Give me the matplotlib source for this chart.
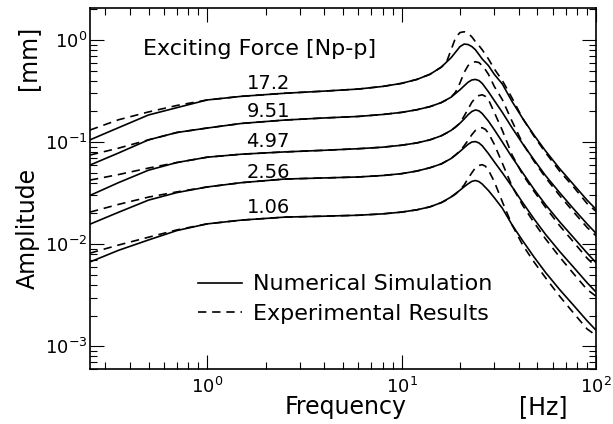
import matplotlib
matplotlib.use("Agg")
import matplotlib.pyplot as plt
from matplotlib.ticker import NullFormatter

plt.rcParams['font.family'] = ['DejaVu Sans']
plt.rcParams['mathtext.fontset'] = 'dejavusans'

# frequency grid [Hz] of the numerical simulation curves
freq_sim = [0.25, 0.35, 0.5, 0.7, 1.0, 1.5, 2.5, 4, 6, 8, 10, 12, 14, 16, 18, 20, 21,
            22, 23, 24, 25, 26, 28, 30, 33, 37, 42, 48, 55, 65, 77, 90, 100]
sim_172 = [0.105, 0.138, 0.184, 0.217, 0.258, 0.28, 0.30, 0.315, 0.33, 0.35, 0.375,
           0.41, 0.46, 0.54, 0.67, 0.86, 0.91, 0.90, 0.86, 0.80, 0.72, 0.65, 0.56,
           0.46, 0.37, 0.25, 0.17, 0.117, 0.082, 0.055, 0.038, 0.027, 0.022]
sim_951 = [0.0595, 0.078, 0.105, 0.124, 0.137, 0.152, 0.164, 0.172, 0.178, 0.186,
           0.195, 0.207, 0.222, 0.243, 0.275, 0.325, 0.355, 0.385, 0.405, 0.41, 0.40,
           0.375, 0.31, 0.255, 0.195, 0.138, 0.096, 0.067, 0.047, 0.032, 0.022,
           0.0158, 0.0128]
sim_497 = [0.030, 0.040, 0.053, 0.063, 0.071, 0.076, 0.080, 0.083, 0.086, 0.089,
           0.093, 0.098, 0.105, 0.115, 0.13, 0.153, 0.168, 0.185, 0.199, 0.206, 0.202,
           0.19, 0.16, 0.132, 0.10, 0.071, 0.050, 0.0345, 0.0244, 0.0166, 0.0115,
           0.0082, 0.0066]
sim_256 = [0.0157, 0.0205, 0.027, 0.032, 0.0363, 0.040, 0.0434, 0.0445, 0.0455,
           0.047, 0.049, 0.052, 0.056, 0.061, 0.069, 0.081, 0.088, 0.095, 0.100,
           0.101, 0.098, 0.092, 0.077, 0.064, 0.05, 0.0366, 0.0255, 0.0177, 0.0125,
           0.0085, 0.0059, 0.0042, 0.0034]
sim_106 = [0.0067, 0.0087, 0.011, 0.0136, 0.0158, 0.0172, 0.0184, 0.0188, 0.0192,
           0.0198, 0.0206, 0.0217, 0.0232, 0.0255, 0.029, 0.0338, 0.0365, 0.039,
           0.0412, 0.042, 0.041, 0.0388, 0.0335, 0.0285, 0.0225, 0.0155, 0.0108,
           0.0075, 0.0053, 0.0036, 0.0025, 0.00178, 0.00144]

# frequency grid [Hz] of the measured curves
freq_exp = [0.25, 0.35, 0.5, 0.7, 1.0, 1.5, 2.5, 4, 6, 8, 10, 12, 14, 16, 17, 18, 19,
            20, 21, 22, 23, 24, 25, 26, 27, 28, 30, 33, 37, 42, 48, 55, 65, 77, 90, 100]
exp_172 = [0.131, 0.165, 0.197, 0.228, 0.258, 0.28, 0.30, 0.315, 0.33, 0.35, 0.375,
           0.41, 0.46, 0.54, 0.6, 0.8, 1.06, 1.18, 1.2, 1.16, 1.07, 0.96, 0.88, 0.8,
           0.72, 0.65, 0.52, 0.40, 0.27, 0.17, 0.114, 0.079, 0.052, 0.036, 0.025, 0.021]
exp_951 = [0.0746, 0.087, 0.105, 0.124, 0.137, 0.152, 0.164, 0.172, 0.178, 0.186,
           0.195, 0.207, 0.222, 0.243, 0.258, 0.275, 0.31, 0.38, 0.48, 0.56, 0.60,
           0.61, 0.60, 0.56, 0.51, 0.46, 0.35, 0.26, 0.16, 0.097, 0.065, 0.045, 0.03,
           0.0205, 0.0146, 0.0121]
exp_497 = [0.0424, 0.048, 0.0556, 0.063, 0.071, 0.076, 0.080, 0.083, 0.086, 0.089,
           0.093, 0.098, 0.105, 0.115, 0.122, 0.13, 0.14, 0.153, 0.18, 0.21, 0.245,
           0.27, 0.285, 0.29, 0.28, 0.26, 0.195, 0.13, 0.075, 0.048, 0.033, 0.023,
           0.0152, 0.0104, 0.0073, 0.006]
exp_256 = [0.0206, 0.0245, 0.0289, 0.0325, 0.0363, 0.040, 0.0434, 0.0445, 0.0455,
           0.047, 0.049, 0.052, 0.056, 0.061, 0.065, 0.069, 0.075, 0.082, 0.092,
           0.104, 0.118, 0.13, 0.137, 0.138, 0.133, 0.122, 0.095, 0.062, 0.037,
           0.024, 0.0163, 0.0113, 0.0075, 0.0051, 0.0036, 0.0031]
exp_106 = [0.00817, 0.0098, 0.0117, 0.0138, 0.0158, 0.0172, 0.0184, 0.0188, 0.0192,
           0.0198, 0.0206, 0.0217, 0.0232, 0.0255, 0.027, 0.029, 0.031, 0.034, 0.038,
           0.044, 0.050, 0.056, 0.059, 0.060, 0.058, 0.053, 0.041, 0.026, 0.0155,
           0.0098, 0.0067, 0.0047, 0.0031, 0.0021, 0.00148, 0.00128]

force_labels = ["17.2", "9.51", "4.97", "2.56", "1.06"]
sim_curves = [sim_172, sim_951, sim_497, sim_256, sim_106]
exp_curves = [exp_172, exp_951, exp_497, exp_256, exp_106]

fig = plt.figure(figsize=(6.13, 4.24), dpi=100)
ax = fig.add_axes([0.1468, 0.1297, 0.8254, 0.8514])

dash = (0, (5, 3.5))
for i in range(len(sim_curves)):
    ax.plot(freq_sim, sim_curves[i], color='black', lw=1.2,
            label='Numerical Simulation' if i == 0 else None)
    ax.plot(freq_exp, exp_curves[i], color='black', lw=1.2, linestyle=dash,
            label='Experimental Results' if i == 0 else None)

ax.set_xscale('log')
ax.set_yscale('log')
ax.set_xlim(0.25, 100)
ax.set_ylim(6e-4, 2.05)

ax.tick_params(which='both', direction='in', top=True, right=True, width=0.8,
               labelsize=13)
ax.tick_params(which='major', length=10)
ax.tick_params(which='minor', length=5)
ax.tick_params(axis='x', pad=6)
ax.tick_params(axis='y', pad=2)
ax.xaxis.set_minor_formatter(NullFormatter())
ax.yaxis.set_minor_formatter(NullFormatter())
for s in ax.spines.values():
    s.set_linewidth(1.2)

# force amplitude labels sitting on the curves
label_y = [0.776, 0.698, 0.615, 0.529, 0.432]
for txt, yy in zip(force_labels, label_y):
    ax.text(0.352, yy, txt, transform=ax.transAxes, ha='center', va='baseline',
            fontsize=14)
ax.text(0.105, 0.870, 'Exciting Force [Np-p]', transform=ax.transAxes,
        ha='left', va='baseline', fontsize=16)

leg = ax.legend(loc='upper left', bbox_to_anchor=(0.213, 0.262), frameon=False,
                fontsize=16, handlelength=2.0, handletextpad=0.5,
                labelspacing=0.42, borderpad=0, borderaxespad=0)

fig.text(0.0457, 0.462, 'Amplitude', rotation=90, ha='center', va='center',
         fontsize=17)
fig.text(0.0457, 0.863, '[mm]', rotation=90, ha='center', va='center', fontsize=17)
fig.text(0.564, 0.024, 'Frequency', ha='center', va='baseline', fontsize=17)
fig.text(0.887, 0.024, '[Hz]', ha='center', va='baseline', fontsize=17)

fig.savefig('out.png', dpi=100)
